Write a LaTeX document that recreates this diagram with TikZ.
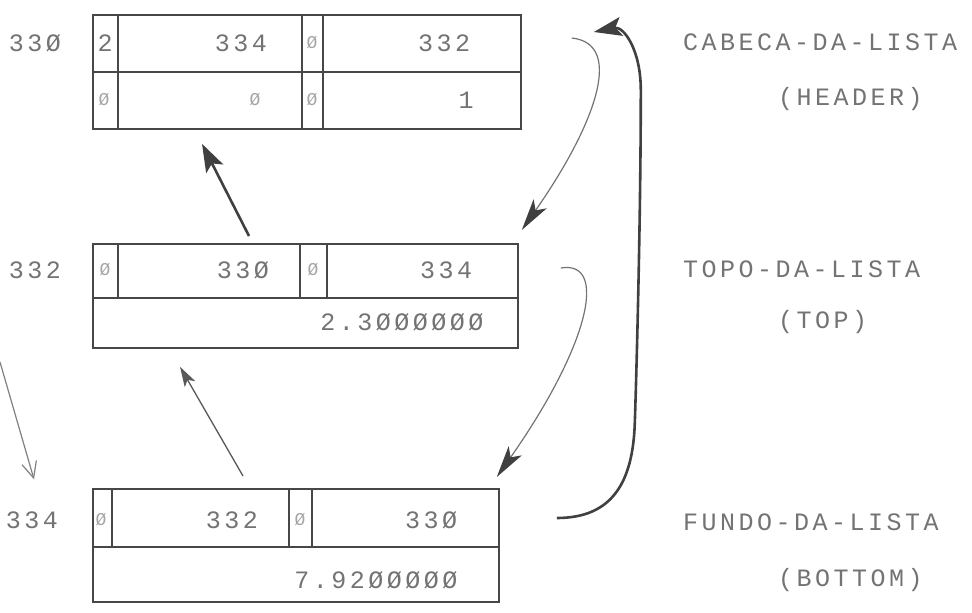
\documentclass[tikz,border=0pt]{standalone}
\usepackage{fontspec}
\newfontfamily\typer{Liberation Mono}[LetterSpace=14]
\usetikzlibrary{arrows.meta, positioning}

\begin{document}
\begin{tikzpicture}[
  x=1pt, y=-1pt,
  every node/.style={font=\typer\fontsize{25}{25}\selectfont, text=black!55, inner sep=0pt},
  rec/.style={draw=black!72, line width=1.8pt, anchor=north west},
  grid/.style={draw=black!72, line width=1.6pt},
  faint/.style={text=black!35, font=\typer\fontsize{18}{18}\selectfont},
  link/.style={draw=black!55, line width=1.2pt, -{Stealth[length=32pt, width=16pt, inset=8pt, color=black!75]}},
  heavy/.style={draw=black!75, line width=2.6pt, -{Stealth[length=28pt, width=19pt, inset=6pt]}},
  thinlink/.style={draw=black!65, line width=1.3pt, -{Stealth[length=20pt, width=12pt, inset=5pt]}},
  barb/.style={draw=black!50, line width=1.2pt, -{Straight Barb[length=16pt, width=15pt]}}
]
\useasboundingbox (0,0) rectangle (972,613);

% Records
\node[rec, minimum width=428pt, minimum height=114pt] (hdr) at (92,14) {};
\node[rec, minimum width=425pt, minimum height=104pt] (topo) at (92,243) {};
\node[rec, minimum width=406pt, minimum height=113pt] (fundo) at (92,488) {};

% Cell lines
\draw[grid] ([yshift=-58pt]hdr.north west) -- ([yshift=-58pt]hdr.north east);
\draw[grid] ([yshift=-55pt]topo.north west) -- ([yshift=-55pt]topo.north east);
\draw[grid] ([yshift=-59pt]fundo.north west) -- ([yshift=-59pt]fundo.north east);
\foreach \dx in {26,210,231}
  \draw[grid] ([xshift=\dx pt]hdr.north west) -- ([xshift=\dx pt]hdr.south west);
\foreach \dx in {26,208,235}
  \draw[grid] ([xshift=\dx pt]topo.north west) -- ++(0,55);
\foreach \dx in {20,197,220}
  \draw[grid] ([xshift=\dx pt]fundo.north west) -- ++(0,59);

% Addresses
\node (a330) at (35,43) {33Ø};
\node (a332) at (35,270) {332};
\node (a334) at (32,520) {334};

% Cell contents
\node (h1) at (105,43) {2};
\node (h2) at (241,43) {334};
\node[faint] (h3) at (312,43) {Ø};
\node (h4) at (444,43) {332};
\node[faint] (h5) at (104,100) {Ø};
\node[faint] (h6) at (255,100) {Ø};
\node[faint] (h7) at (312,100) {Ø};
\node (h8) at (466,100) {1};

\node[faint] (t1) at (105,270) {Ø};
\node (t2) at (243,270) {33Ø};
\node[faint] (t3) at (313,270) {Ø};
\node (t4) at (446,270) {334};
\node (t5) at (402,322) {2.3ØØØØØØ};

\node[faint] (f1) at (101,520) {Ø};
\node (f2) at (232,520) {332};
\node[faint] (f3) at (300,520) {Ø};
\node (f4) at (431,520) {33Ø};
\node (f5) at (376,580) {7.92ØØØØØ};

% Labels
\node[anchor=west] (lhead) at (683,42) {CABECA-DA-LISTA};
\node[anchor=west] (lhead2) at (778,99) {(HEADER)};
\node[anchor=west] (ltop) at (683,269) {TOPO-DA-LISTA};
\node[anchor=west] (ltop2) at (778,322) {(TOP)};
\node[anchor=west] (lbot) at (683,522) {FUNDO-DA-LISTA};
\node[anchor=west] (lbot2) at (778,580) {(BOTTOM)};

% Links
\coordinate (offleft) at (0,362);
\draw[link] ([xshift=50pt,yshift=-24pt]hdr.north east) .. controls +(55,6) and +(70,-100) .. ([xshift=3pt,yshift=13pt]topo.north east);
\draw[link] ([xshift=42pt,yshift=-25pt]topo.north east) .. controls +(48,-8) and +(92,-131) .. ([xshift=-3pt,yshift=11pt]fundo.north east);
\draw[heavy] ([xshift=57pt,yshift=-30pt]fundo.north east) .. controls +(55,0) and +(-2,60) .. ++(78,-95)
  .. controls +(2,-60) and +(0,120) .. ++(6,-333)
  .. controls +(0,-40) and +(30,-6) .. ([xshift=72pt,yshift=-18pt]hdr.north east);
\draw[heavy] ([xshift=157pt,yshift=7pt]topo.north west) -- ([xshift=110pt,yshift=-14pt]hdr.south west);
\draw[thinlink] ([xshift=151pt,yshift=12pt]fundo.north west) -- ([xshift=88pt,yshift=-18pt]topo.south west);
\draw[barb] (offleft) -- ([xshift=2pt,yshift=32pt]a334.north);
\end{tikzpicture}
\end{document}
